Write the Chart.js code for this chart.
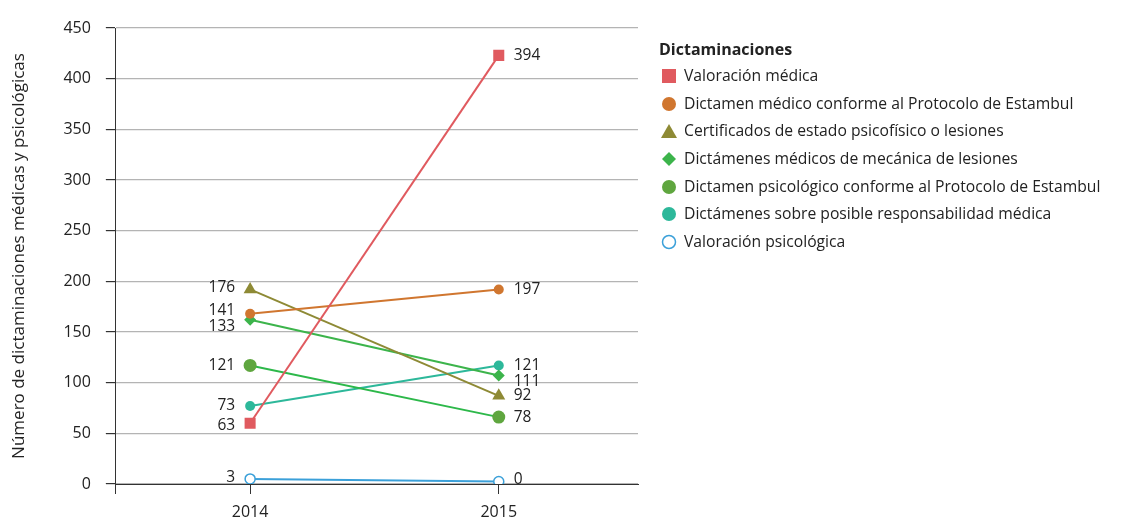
<!DOCTYPE html>
<html>
<head>
<meta charset="utf-8">
<script src="https://cdn.jsdelivr.net/npm/chart.js@4/dist/chart.umd.min.js"></script>
<style>
  html, body { margin: 0; padding: 0; background: #fff; }
  #wrap { position: relative; width: 1130px; height: 521px; }
  #c { position: absolute; left: 0; top: 0; }
  #legend { position: absolute; left: 659px; top: 36px; font-family: "Open Sans", "Noto Sans", sans-serif; color: #222; }
  #legend .title { font-weight: bold; font-size: 16px; height: 26px; line-height: 26px; }
  #legend .item { font-size: 15.7px; height: 27.7px; line-height: 27.7px; white-space: nowrap; display: flex; align-items: center; }
  #legend .mk { width: 20px; height: 20px; margin-right: 5px; flex: none; }
</style>
</head>
<body>
<div id="wrap">
  <canvas id="c" width="1130" height="521"></canvas>
  <div id="legend"></div>
</div>
<script>
// ---- data ----
const years = [2014, 2015];
const seriesNames = [
  "Valoración médica",
  "Dictamen médico conforme al Protocolo de Estambul",
  "Certificados de estado psicofísico o lesiones",
  "Dictámenes médicos de mecánica de lesiones",
  "Dictamen psicológico conforme al Protocolo de Estambul",
  "Dictámenes sobre posible responsabilidad médica",
  "Valoración psicológica"
];
// plotted positions
const valoracionMedica = [60, 423];
const dictamenMedicoPE = [168, 192];
const certificados = [192, 87];
const mecanicaLesiones = [162, 107];
const dictamenPsicologicoPE = [117, 66];
const responsabilidadMedica = [77, 117];
const valoracionPsicologica = [5, 2.5];
// printed data labels
const labelsValoracionMedica = ["63", "394"];
const labelsDictamenMedicoPE = ["141", "197"];
const labelsCertificados = ["176", "92"];
const labelsMecanicaLesiones = ["133", "111"];
const labelsDictamenPsicologicoPE = ["121", "78"];
const labelsResponsabilidadMedica = ["73", "121"];
const labelsValoracionPsicologica = ["3", "0"];
const yTicks = [0, 50, 100, 150, 200, 250, 300, 350, 400, 450];
const yTitle = "Número de dictaminaciones médicas y psicológicas";
const legendTitle = "Dictaminaciones";

// ---- styles ----
const FONT = '"Open Sans", "Noto Sans", sans-serif';
const styles = [
  { color: "#e05a5f", line: "#e05a5f", ps: "rect", r: 7.8, fill: true },
  { color: "#d0762f", line: "#d0762f", ps: "circle", r: 5, fill: true },
  { color: "#8e8a35", line: "#8e8a35", ps: "triangle", r: 7.5, fill: true },
  { color: "#3cb44b", line: "#3cb44b", ps: "rectRot", r: 6, fill: true },
  { color: "#5fa63f", line: "#2db84a", ps: "circle", r: 6.5, fill: true },
  { color: "#2db89a", line: "#2db89a", ps: "circle", r: 5, fill: true },
  { color: "#3ba0d9", line: "#3ba0d9", ps: "circle", r: 5, fill: false }
];
const allValues = [valoracionMedica, dictamenMedicoPE, certificados, mecanicaLesiones,
  dictamenPsicologicoPE, responsabilidadMedica, valoracionPsicologica];
const allLabels = [labelsValoracionMedica, labelsDictamenMedicoPE, labelsCertificados,
  labelsMecanicaLesiones, labelsDictamenPsicologicoPE, labelsResponsabilidadMedica,
  labelsValoracionPsicologica];
// vertical nudges of printed labels (px) [left, right]
const labelNudge = [[2, 0], [-3, 0], [-2, 0], [7, 6], [0, 0], [0, 0], [-1, -2]];

const datasets = seriesNames.map((name, i) => ({
  label: name,
  data: years.map((yr, j) => ({ x: yr, y: allValues[i][j] })),
  borderColor: styles[i].line,
  backgroundColor: styles[i].fill ? styles[i].color : "#ffffff",
  pointBackgroundColor: styles[i].fill ? styles[i].color : "#ffffff",
  pointBorderColor: styles[i].color,
  pointBorderWidth: styles[i].fill ? 0 : 1.5,
  pointStyle: styles[i].ps,
  pointRadius: styles[i].r,
  borderWidth: 2,
  tension: 0
}));

const labelPlugin = {
  id: "dataLabels",
  afterDatasetsDraw(chart) {
    const ctx = chart.ctx;
    ctx.save();
    ctx.font = "15.5px " + FONT;
    ctx.fillStyle = "#222";
    ctx.textBaseline = "middle";
    chart.data.datasets.forEach((ds, i) => {
      const meta = chart.getDatasetMeta(i);
      meta.data.forEach((pt, j) => {
        const txt = allLabels[i][j];
        if (j === 0) {
          ctx.textAlign = "right";
          ctx.fillText(txt, pt.x - 15, pt.y + labelNudge[i][0]);
        } else {
          ctx.textAlign = "left";
          ctx.fillText(txt, pt.x + 15, pt.y + labelNudge[i][1]);
        }
      });
    });
    ctx.restore();
  }
};

new Chart(document.getElementById("c"), {
  type: "line",
  data: { datasets },
  plugins: [labelPlugin],
  options: {
    responsive: false,
    animation: false,
    layout: { padding: { left: 9, right: 492, top: 28, bottom: 0 } },
    plugins: { legend: { display: false }, tooltip: { enabled: false } },
    scales: {
      x: {
        type: "linear",
        min: 2013.46,
        max: 2015.56,
        afterBuildTicks(scale) {
          scale.ticks = [{ value: 2013.46 }].concat(years.map(v => ({ value: v })));
        },
        afterFit(scale) { scale.height = 37; },
        ticks: {
          font: { size: 16, family: FONT },
          color: "#222",
          padding: 9,
          callback: (v) => (years.includes(v) ? String(v) : "")
        },
        grid: { drawOnChartArea: false, tickLength: 10, color: "#333", tickColor: "#333" },
        border: { color: "#333", width: 1 }
      },
      y: {
        min: 0,
        max: 450,
        afterBuildTicks(scale) {
          scale.ticks = yTicks.map(v => ({ value: v }));
        },
        ticks: { font: { size: 16, family: FONT }, color: "#222", padding: 15 },
        grid: { color: "#b4b4b4", tickColor: "#333", tickLength: 10, lineWidth: 1.2 },
        border: { color: "#333", width: 1 },
        title: { display: true, text: yTitle, font: { size: 17, family: FONT }, color: "#222", padding: { top: 0, bottom: 19 } }
      }
    }
  }
});

// ---- HTML legend ----
function markerSVG(s) {
  const c = s.color;
  let shape = "";
  if (s.ps === "rect") shape = `<rect x="3" y="3" width="14" height="14" fill="${c}"/>`;
  else if (s.ps === "triangle") shape = `<polygon points="10,3 18,17 2,17" fill="${c}"/>`;
  else if (s.ps === "rectRot") shape = `<polygon points="10,3 17,10 10,17 3,10" fill="${c}"/>`;
  else if (s.fill) shape = `<circle cx="10" cy="10" r="7" fill="${c}"/>`;
  else shape = `<circle cx="10" cy="10" r="6.5" fill="#fff" stroke="${c}" stroke-width="1.5"/>`;
  return `<svg class="mk" viewBox="0 0 20 20" width="20" height="20">${shape}</svg>`;
}
const lg = document.getElementById("legend");
let html = `<div class="title">${legendTitle}</div>`;
seriesNames.forEach((n, i) => { html += `<div class="item">${markerSVG(styles[i])}<span>${n}</span></div>`; });
lg.innerHTML = html;
</script>
</body>
</html>
